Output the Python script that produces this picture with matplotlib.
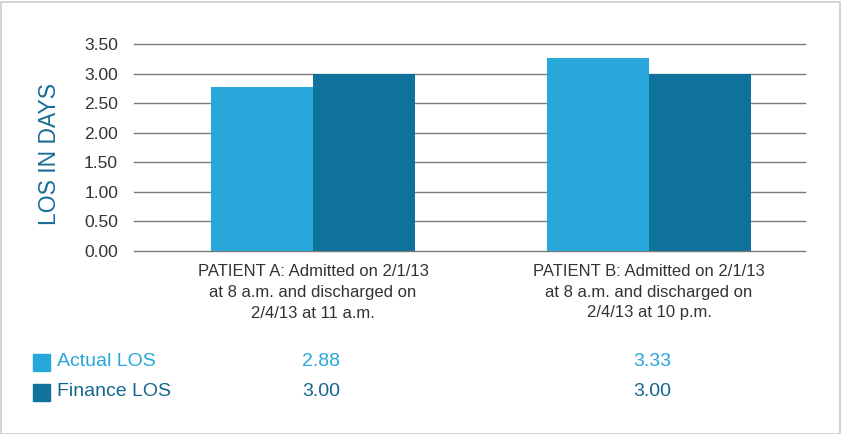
import numpy as np
import matplotlib.pyplot as plt
from matplotlib.patches import Rectangle

plt.rcParams['font.family'] = ['Liberation Sans', 'DejaVu Sans']

categories = ["PATIENT A: Admitted on 2/1/13\nat 8 a.m. and discharged on\n2/4/13 at 11 a.m.",
              "PATIENT B: Admitted on 2/1/13\nat 8 a.m. and discharged on\n2/4/13 at 10 p.m."]
series_names = ["Actual LOS", "Finance LOS"]
actual_bars = [2.78, 3.27]      # heights as drawn
finance_bars = [3.00, 3.00]
actual_table = ["2.88", "3.33"]  # values printed in the table
finance_table = ["3.00", "3.00"]
yticks = [0, 0.5, 1.0, 1.5, 2.0, 2.5, 3.0, 3.5]

c_actual = "#27a7da"
c_finance = "#0f729c"

fig = plt.figure(figsize=(8.41, 4.34), dpi=100)
ax = fig.add_axes([134 / 841, 1 - 251 / 434, 671 / 841, 207 / 434])

x = np.arange(len(categories))
w = 0.304
ax.bar(x - w / 2, actual_bars, w, color=c_actual, zorder=3)
ax.bar(x + w / 2, finance_bars, w, color=c_finance, zorder=3)

ax.set_xlim(-0.533, 1.464)
ax.set_ylim(0, 3.5)
ax.set_yticks(yticks)
ax.set_yticklabels(["%.2f" % v for v in yticks])
for v in yticks:
    ax.axhline(v, color="#7a7a7a", linewidth=1.0, zorder=1, clip_on=False)
for s in ax.spines.values():
    s.set_visible(False)
ax.tick_params(axis="y", length=0, pad=11.5, labelsize=12.5, labelcolor="#333333")
ax.tick_params(axis="x", length=0, pad=9, labelsize=12, labelcolor="#333333")
ax.set_xticks(x)
ax.set_xticklabels(categories, linespacing=1.5)
fig.text(49 / 841, 1 - 154 / 434, "LOS IN DAYS", fontsize=16.5, color="#1a6d98",
         rotation=90, ha="center", va="center")

# table below the chart
rows = [(series_names[0], actual_table, c_actual, c_actual, 362),
        (series_names[1], finance_table, c_finance, "#15668f", 392)]
for name, vals, fc, tc, ypx in rows:
    yf = 1 - ypx / 434
    fig.patches.append(Rectangle((33 / 841, 1 - (ypx + 8.5) / 434), 17 / 841, 17 / 434,
                                 transform=fig.transFigure, color=fc))
    fig.text(57 / 841, yf, name, fontsize=14, color=tc, va="center", ha="left")
    for xc, v in zip([321, 652], vals):
        fig.text(xc / 841, yf, v, fontsize=14, color=tc, va="center", ha="center")

# light frame
fig.patches.append(Rectangle((0.5 / 841, 0.5 / 434), 839.5 / 841, 432 / 434,
                             transform=fig.transFigure, fill=False,
                             edgecolor="#cccccc", linewidth=1.2))

fig.savefig("out.png", dpi=100)
